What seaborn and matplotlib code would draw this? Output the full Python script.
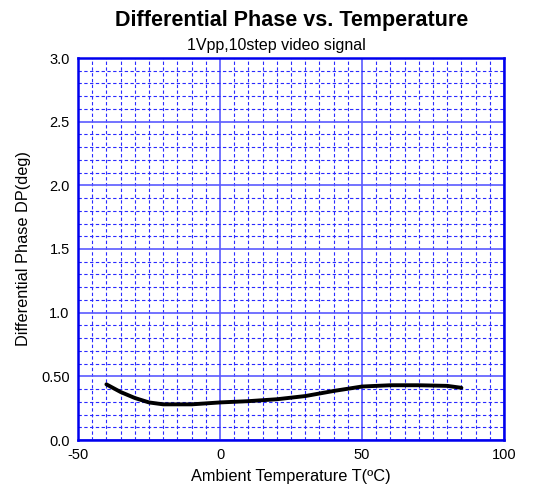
import numpy as np
import pandas as pd
import matplotlib
matplotlib.use("Agg")
import matplotlib.pyplot as plt
from matplotlib.ticker import MultipleLocator, FixedLocator
import seaborn as sns

# valores
temperatura = [-40, -35, -30, -25, -20, -10, 0, 10, 20, 30, 40, 50, 60, 70, 80, 85]
fase_dp = [0.437, 0.377, 0.33, 0.295, 0.28, 0.28, 0.295, 0.305, 0.32, 0.345,
           0.385, 0.42, 0.43, 0.43, 0.425, 0.41]

ticks_y = [0.0, 0.5, 1.0, 1.5, 2.0, 2.5, 3.0]
etiquetas_y = ["0.0", "0.50", "1.0", "1.5", "2.0", "2.5", "3.0"]
ticks_x = [-50, 0, 50, 100]

sns.set_style("white")
plt.rcParams['font.family'] = ['Liberation Sans', 'DejaVu Sans']
plt.rcParams['axes.unicode_minus'] = False
plt.rcParams['text.color'] = 'black'
plt.rcParams['axes.labelcolor'] = 'black'

df = pd.DataFrame({"T": temperatura, "DP": fase_dp})

fig, ax = plt.subplots(figsize=(5.54, 4.96), dpi=100)
fig.subplots_adjust(left=78/554, right=504/554, top=1-58/496, bottom=1-440/496)

azul = "#0000ee"
ax.set_xlim(-50, 100)
ax.set_ylim(0, 3)
ax.xaxis.set_major_locator(FixedLocator(ticks_x))
ax.xaxis.set_minor_locator(MultipleLocator(5))
ax.yaxis.set_major_locator(FixedLocator(ticks_y))
ax.yaxis.set_minor_locator(MultipleLocator(0.1))
ax.set_yticklabels(etiquetas_y)

# rejilla azul: mayor continua, menor discontinua
ax.grid(which="major", color="#5a5aff", linewidth=1.2, linestyle="-")
ax.grid(which="minor", color="#2a2aff", linewidth=0.8, linestyle=(0, (3, 2.2)))
ax.set_axisbelow(True)

sns.lineplot(data=df, x="T", y="DP", ax=ax, color="black", linewidth=2.8)

for s in ax.spines.values():
    s.set_color(azul)
    s.set_linewidth(1.8)

ax.tick_params(which="both", length=0, labelsize=10.5, pad=6, colors="black")
ax.set_xlabel("Ambient Temperature T(ºC)", fontsize=11.8, labelpad=5)
ax.set_ylabel("Differential Phase DP(deg)", fontsize=11.8, labelpad=7)

fig.text(0.527, 0.958, "Differential Phase vs. Temperature", ha="center", va="center",
         fontsize=15.5, fontweight="bold")
fig.text(0.498, 0.909, "1Vpp,10step video signal", ha="center", va="center", fontsize=11.5)

fig.savefig("out.png", dpi=100)
